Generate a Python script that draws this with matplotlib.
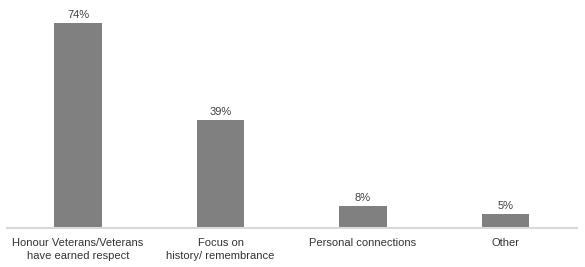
import matplotlib.pyplot as plt

# Chart data
categories = ['Honour Veterans/Veterans\nhave earned respect',
              'Focus on\nhistory/ remembrance',
              'Personal connections',
              'Other']
values = [74, 39, 8, 5]
value_labels = ['74%', '39%', '8%', '5%']

plt.rcParams['font.family'] = ['Liberation Sans', 'DejaVu Sans']

fig = plt.figure(figsize=(5.85, 2.67), dpi=100)
ax = fig.add_axes([6.75 / 585, 39 / 267, 570 / 585, 221.6 / 267])

x = range(len(categories))
bars = ax.bar(x, values, width=0.33, color='#808080')

for rect, lab in zip(bars, value_labels):
    ax.text(rect.get_x() + rect.get_width() / 2, rect.get_height() + 1.2, lab,
            ha='center', va='bottom', fontsize=8, color='#404040')

ax.set_xlim(-0.5, len(categories) - 0.5)
ax.set_ylim(0, 80)
ax.set_xticks(list(x))
ax.set_xticklabels(categories, fontsize=8, color='#333333', linespacing=1.35)
ax.tick_params(axis='x', length=0, pad=7)
ax.set_yticks([])

for side in ['top', 'right', 'left']:
    ax.spines[side].set_visible(False)
ax.spines['bottom'].set_color('#d9d9d9')
ax.spines['bottom'].set_linewidth(1.5)

fig.savefig('out.png', dpi=100)
